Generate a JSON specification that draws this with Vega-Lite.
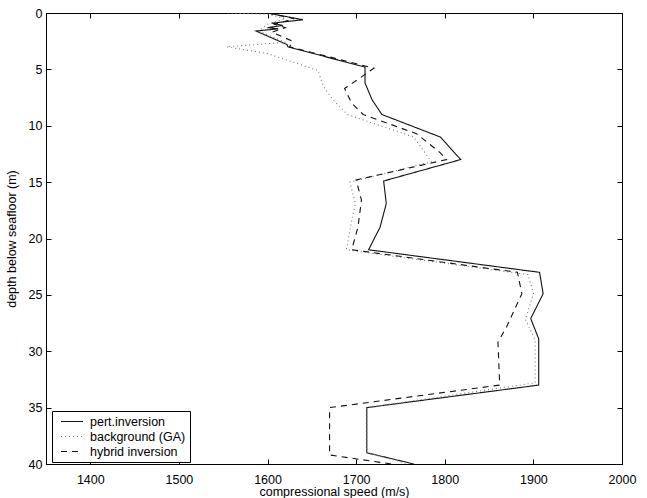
{
  "$schema": "https://vega.github.io/schema/vega-lite/v6.json",
  "width": 576,
  "height": 451,
  "autosize": {"type": "none"},
  "padding": {"left": 46, "top": 13, "right": 25, "bottom": 34},
  "background": "white",
  "config": {
    "font": "Liberation Sans",
    "view": {"stroke": "black", "strokeWidth": 1},
    "axis": {
      "domainColor": "black",
      "tickColor": "black",
      "labelColor": "black",
      "titleColor": "black",
      "labelFont": "Liberation Sans",
      "titleFont": "Liberation Sans",
      "labelFontSize": 12.5,
      "titleFontSize": 12.5,
      "titleFontWeight": "normal",
      "grid": false
    }
  },
  "data": {
    "values": [
      {"series": "pert.inversion", "v": 1600, "d": 0},
      {"series": "pert.inversion", "v": 1640, "d": 0.6},
      {"series": "pert.inversion", "v": 1605, "d": 0.9},
      {"series": "pert.inversion", "v": 1617, "d": 1.1},
      {"series": "pert.inversion", "v": 1600, "d": 1.3},
      {"series": "pert.inversion", "v": 1612, "d": 1.4},
      {"series": "pert.inversion", "v": 1587, "d": 1.6},
      {"series": "pert.inversion", "v": 1622, "d": 2.8},
      {"series": "pert.inversion", "v": 1623, "d": 3.0},
      {"series": "pert.inversion", "v": 1710, "d": 4.8},
      {"series": "pert.inversion", "v": 1710, "d": 6.2},
      {"series": "pert.inversion", "v": 1718, "d": 7.7},
      {"series": "pert.inversion", "v": 1729, "d": 9.0},
      {"series": "pert.inversion", "v": 1795, "d": 11.0},
      {"series": "pert.inversion", "v": 1818, "d": 13.0},
      {"series": "pert.inversion", "v": 1731, "d": 14.9},
      {"series": "pert.inversion", "v": 1734, "d": 16.9},
      {"series": "pert.inversion", "v": 1727, "d": 19.0},
      {"series": "pert.inversion", "v": 1714, "d": 21.0},
      {"series": "pert.inversion", "v": 1907, "d": 23.0},
      {"series": "pert.inversion", "v": 1911, "d": 24.9},
      {"series": "pert.inversion", "v": 1897, "d": 27.1},
      {"series": "pert.inversion", "v": 1906, "d": 28.9},
      {"series": "pert.inversion", "v": 1906, "d": 33.0},
      {"series": "pert.inversion", "v": 1712, "d": 35.0},
      {"series": "pert.inversion", "v": 1712, "d": 39.0},
      {"series": "pert.inversion", "v": 1765, "d": 40.0},

      {"series": "background (GA)", "v": 1555, "d": 0},
      {"series": "background (GA)", "v": 1600, "d": 0.1},
      {"series": "background (GA)", "v": 1620, "d": 0.5},
      {"series": "background (GA)", "v": 1600, "d": 1.0},
      {"series": "background (GA)", "v": 1590, "d": 1.6},
      {"series": "background (GA)", "v": 1620, "d": 2.6},
      {"series": "background (GA)", "v": 1554, "d": 3.0},
      {"series": "background (GA)", "v": 1600, "d": 3.6},
      {"series": "background (GA)", "v": 1657, "d": 5.1},
      {"series": "background (GA)", "v": 1663, "d": 6.5},
      {"series": "background (GA)", "v": 1674, "d": 7.7},
      {"series": "background (GA)", "v": 1690, "d": 9.0},
      {"series": "background (GA)", "v": 1765, "d": 11.0},
      {"series": "background (GA)", "v": 1776, "d": 12.2},
      {"series": "background (GA)", "v": 1785, "d": 13.2},
      {"series": "background (GA)", "v": 1693, "d": 15.0},
      {"series": "background (GA)", "v": 1699, "d": 16.9},
      {"series": "background (GA)", "v": 1693, "d": 19.2},
      {"series": "background (GA)", "v": 1689, "d": 21.0},
      {"series": "background (GA)", "v": 1894, "d": 23.2},
      {"series": "background (GA)", "v": 1900, "d": 24.9},
      {"series": "background (GA)", "v": 1891, "d": 27.2},
      {"series": "background (GA)", "v": 1902, "d": 29.0},
      {"series": "background (GA)", "v": 1902, "d": 32.8},
      {"series": "background (GA)", "v": 1712, "d": 35.0},
      {"series": "background (GA)", "v": 1712, "d": 39.0},
      {"series": "background (GA)", "v": 1760, "d": 40.0},

      {"series": "hybrid inversion", "v": 1600, "d": 0},
      {"series": "hybrid inversion", "v": 1630, "d": 0.5},
      {"series": "hybrid inversion", "v": 1608, "d": 1.0},
      {"series": "hybrid inversion", "v": 1620, "d": 1.3},
      {"series": "hybrid inversion", "v": 1605, "d": 1.7},
      {"series": "hybrid inversion", "v": 1628, "d": 2.5},
      {"series": "hybrid inversion", "v": 1625, "d": 3.0},
      {"series": "hybrid inversion", "v": 1720, "d": 4.9},
      {"series": "hybrid inversion", "v": 1687, "d": 6.7},
      {"series": "hybrid inversion", "v": 1695, "d": 8.0},
      {"series": "hybrid inversion", "v": 1708, "d": 9.0},
      {"series": "hybrid inversion", "v": 1768, "d": 10.7},
      {"series": "hybrid inversion", "v": 1795, "d": 12.4},
      {"series": "hybrid inversion", "v": 1802, "d": 13.0},
      {"series": "hybrid inversion", "v": 1700, "d": 14.8},
      {"series": "hybrid inversion", "v": 1706, "d": 16.6},
      {"series": "hybrid inversion", "v": 1702, "d": 19.0},
      {"series": "hybrid inversion", "v": 1695, "d": 21.0},
      {"series": "hybrid inversion", "v": 1882, "d": 23.0},
      {"series": "hybrid inversion", "v": 1887, "d": 24.9},
      {"series": "hybrid inversion", "v": 1870, "d": 27.8},
      {"series": "hybrid inversion", "v": 1860, "d": 29.2},
      {"series": "hybrid inversion", "v": 1862, "d": 33.0},
      {"series": "hybrid inversion", "v": 1670, "d": 35.0},
      {"series": "hybrid inversion", "v": 1670, "d": 39.2},
      {"series": "hybrid inversion", "v": 1740, "d": 40.0}
    ]
  },
  "layer": [
    {
      "mark": {"type": "line", "strokeWidth": 1.1, "clip": true},
      "encoding": {
        "x": {
          "field": "v", "type": "quantitative",
          "scale": {"domain": [1350, 2000], "nice": false, "zero": false},
          "axis": {"orient": "bottom", "values": [1400, 1500, 1600, 1700, 1800, 1900, 2000], "format": "d", "tickSize": -5, "labelPadding": 14, "title": "compressional speed (m/s)", "titlePadding": 0, "labelFlush": false}
        },
        "y": {
          "field": "d", "type": "quantitative",
          "scale": {"domain": [0, 40], "nice": false, "zero": false, "reverse": true},
          "axis": {"orient": "left", "values": [0, 5, 10, 15, 20, 25, 30, 35, 40], "format": "d", "tickSize": -5, "labelPadding": 9, "title": "depth below seafloor (m)", "titlePadding": 10, "labelFlush": false}
        },
        "order": {"field": "d", "type": "quantitative"},
        "color": {
          "field": "series", "type": "nominal",
          "scale": {"domain": ["pert.inversion", "background (GA)", "hybrid inversion"], "range": ["#111111", "#777777", "#111111"]},
          "legend": {
            "title": null, "orient": "none", "legendX": 6, "legendY": 398,
            "symbolType": "M-2,0H2", "symbolSize": 121, "symbolStrokeWidth": 1.1, "symbolOffset": 9.5,
            "labelFontSize": 12.5, "labelFont": "Liberation Sans", "labelColor": "black",
            "strokeColor": "black", "fillColor": "white", "padding": 4, "rowPadding": 2, "labelOffset": 11.5
          }
        },
        "strokeDash": {
          "field": "series", "type": "nominal",
          "scale": {"domain": ["pert.inversion", "background (GA)", "hybrid inversion"], "range": [[1, 0], [1, 3], [6, 5]]},
          "legend": {
            "title": null, "orient": "none", "legendX": 6, "legendY": 398,
            "symbolType": "M-2,0H2", "symbolSize": 121, "symbolStrokeWidth": 1.1, "symbolOffset": 9.5,
            "labelFontSize": 12.5, "labelFont": "Liberation Sans", "labelColor": "black",
            "strokeColor": "black", "fillColor": "white", "padding": 4, "rowPadding": 2, "labelOffset": 11.5
          }
        }
      }
    },
    {
      "mark": {"type": "line", "opacity": 0},
      "encoding": {
        "x": {
          "field": "v", "type": "quantitative",
          "scale": {"domain": [1350, 2000], "nice": false, "zero": false},
          "axis": {"orient": "top", "values": [1400, 1500, 1600, 1700, 1800, 1900, 2000], "tickSize": -5, "labels": false, "title": null}
        },
        "y": {
          "field": "d", "type": "quantitative",
          "scale": {"domain": [0, 40], "nice": false, "zero": false, "reverse": true},
          "axis": {"orient": "right", "values": [0, 5, 10, 15, 20, 25, 30, 35, 40], "tickSize": -5, "labels": false, "title": null}
        },
        "detail": {"field": "series"}
      }
    }
  ],
  "resolve": {"axis": {"x": "independent", "y": "independent"}}
}
